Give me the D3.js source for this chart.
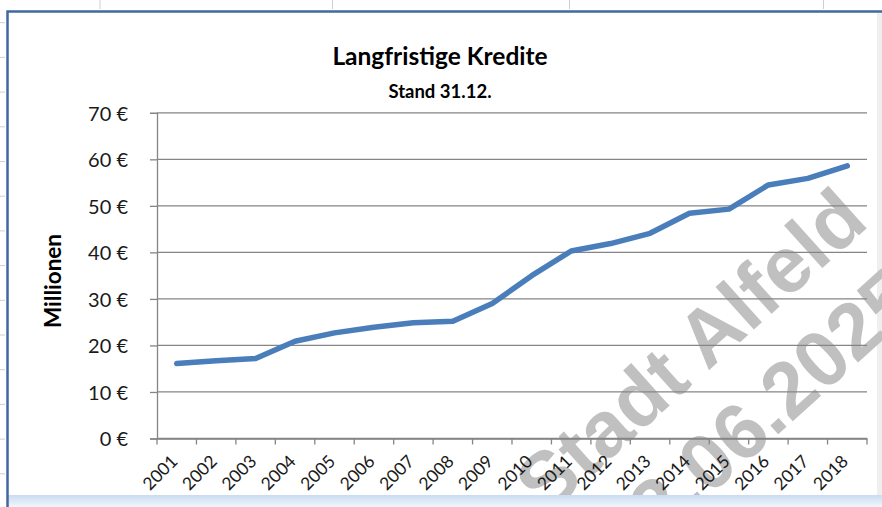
<!DOCTYPE html>
<html>
<head>
<meta charset="utf-8">
<script src="https://cdn.jsdelivr.net/npm/d3@7"></script>
<style>
  html, body { margin: 0; padding: 0; background: #fff; }
  svg { display: block; }
</style>
</head>
<body>
<div id="chart"></div>
<script>
// data (Mio. €, Stand 31.12.)
var years = ["2001","2002","2003","2004","2005","2006","2007","2008","2009",
             "2010","2011","2012","2013","2014","2015","2016","2017","2018"];
var kredite = [16.1, 16.7, 17.2, 20.9, 22.7, 23.9, 24.9, 25.2, 29.0,
               35.0, 40.3, 41.9, 44.1, 48.4, 49.3, 54.5, 55.9, 58.6];
var yTicks = [0, 10, 20, 30, 40, 50, 60, 70];

var title = "Langfristige Kredite";
var subtitle = "Stand 31.12.";
var yTitle = "Millionen";
var stamp = ["Stadt Alfeld", "12.06.2025"];

var W = 882, H = 507;
var plotLeft = 157, plotRight = 867, plotTop = 112.8, plotBottom = 438.5;

var svg = d3.select("#chart").append("svg")
	.attr("width", W)
	.attr("height", H);

// spreadsheet behind the chart: row / column marks
var rows = d3.range(22.7, H, 34.7);
svg.append("g").selectAll("line")
	.data(rows)
	.enter().append("line")
	.attr("x1", 0).attr("x2", 5)
	.attr("y1", function(d){ return d; })
	.attr("y2", function(d){ return d; })
	.attr("stroke", "#cfcfcf");
svg.append("g").selectAll("line")
	.data([100, 332.5, 569.5, 823.5])
	.enter().append("line")
	.attr("x1", function(d){ return d; })
	.attr("x2", function(d){ return d; })
	.attr("y1", 0).attr("y2", 9)
	.attr("stroke", "#cfcfcf");
svg.append("rect")
	.attr("x", 877).attr("y", 12)
	.attr("width", 5).attr("height", H)
	.attr("fill", "#efefef");

var x = d3.scaleBand()
	.domain(years)
	.range([plotLeft, plotRight]);

var y = d3.scaleLinear()
	.domain([0, 70])
	.range([plotBottom, plotTop]);

// watermark
var wm = svg.append("g")
	.attr("transform", "translate(690,350) rotate(-42)")
	.style("font-family", "Liberation Sans, Arial, sans-serif")
	.style("font-weight", "bold")
	.style("font-size", "79px")
	.attr("fill", "#c0c0c0")
	.attr("text-anchor", "middle");
wm.selectAll("text")
	.data(stamp)
	.enter().append("text")
	.attr("x", function(d, i){ return i * 4; })
	.attr("y", function(d, i){ return i * 94; })
	.attr("dy", "0.35em")
	.text(function(d){ return d; });

// gridlines
svg.append("g").selectAll("line")
	.data(yTicks)
	.enter().append("line")
	.attr("x1", plotLeft).attr("x2", plotRight)
	.attr("y1", function(d){ return y(d); })
	.attr("y2", function(d){ return y(d); })
	.attr("stroke", "#858585")
	.attr("stroke-width", 1.3);

// y axis
var yAxis = d3.axisLeft(y)
	.tickValues(yTicks)
	.tickSize(7)
	.tickPadding(22)
	.tickFormat(function(d){ return d + " €"; });

var gy = svg.append("g")
	.attr("transform", "translate(" + plotLeft + ",0)")
	.call(yAxis);
gy.attr("font-family", "Lato, sans-serif").attr("font-size", 20);
gy.selectAll("path, line").attr("stroke", "#858585").attr("stroke-width", 1.3);
gy.selectAll("text").attr("fill", "#1a1a1a").attr("dy", "0.36em");

// x axis (ticks between the categories)
var xAxis = d3.axisBottom(x).tickSize(0);
var gx = svg.append("g")
	.attr("transform", "translate(0," + plotBottom + ")")
	.call(xAxis);
gx.attr("font-family", "Lato, sans-serif").attr("font-size", 17.5);
gx.select(".domain").attr("stroke", "#858585").attr("stroke-width", 1.3);
gx.selectAll("text")
	.attr("y", 0)
	.attr("dy", null)
	.attr("fill", "#1a1a1a")
	.attr("text-anchor", "end")
	.attr("transform", "translate(2,24) rotate(-45)");

gx.selectAll(".edge")
	.data(years.map(function(d){ return x(d); }).concat([plotRight]))
	.enter().append("line")
	.attr("class", "edge")
	.attr("x1", function(d){ return d; })
	.attr("x2", function(d){ return d; })
	.attr("y1", 0).attr("y2", 6)
	.attr("stroke", "#858585")
	.attr("stroke-width", 1.3);

// the line
var lineGenerator = d3.line()
	.x(function(d, i){ return x(years[i]) + x.bandwidth() / 2; })
	.y(function(d){ return y(d); });

svg.append("path")
	.attr("d", lineGenerator(kredite))
	.attr("fill", "none")
	.attr("stroke", "#4a7ebb")
	.attr("stroke-width", 5.5)
	.attr("stroke-linejoin", "round")
	.attr("stroke-linecap", "round");

// titles
svg.append("text")
	.attr("x", 440).attr("y", 65)
	.attr("text-anchor", "middle")
	.style("font-family", "Lato, sans-serif")
	.style("font-weight", "bold")
	.style("font-size", "24.5px")
	.text(title);

svg.append("text")
	.attr("x", 440).attr("y", 98)
	.attr("text-anchor", "middle")
	.style("font-family", "Lato, sans-serif")
	.style("font-weight", "bold")
	.style("font-size", "18.5px")
	.text(subtitle);

svg.append("text")
	.attr("transform", "translate(61,281) rotate(-90)")
	.attr("text-anchor", "middle")
	.style("font-family", "Lato, sans-serif")
	.style("font-weight", "bold")
	.style("font-size", "22.5px")
	.text(yTitle);

// frame of the embedded chart
var grad = svg.append("defs").append("linearGradient")
	.attr("id", "bar")
	.attr("x1", 0).attr("y1", 0).attr("x2", 0).attr("y2", 1);
grad.append("stop").attr("offset", "0%").attr("stop-color", "#c9dcf2");
grad.append("stop").attr("offset", "100%").attr("stop-color", "#f2f6fc");

svg.append("rect")
	.attr("x", 7).attr("y", 495)
	.attr("width", W - 7).attr("height", H - 495)
	.attr("fill", "url(#bar)");

svg.append("path")
	.attr("d", "M7.5," + H + "V11.5H" + W)
	.attr("fill", "none")
	.attr("stroke", "#41689f")
	.attr("stroke-width", 2.5);
</script>
</body>
</html>
